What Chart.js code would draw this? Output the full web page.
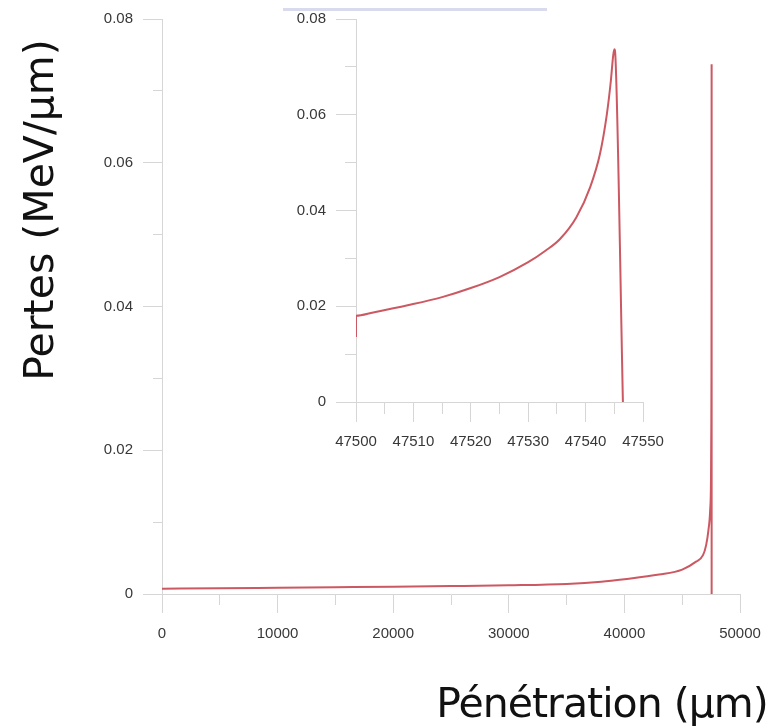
<!DOCTYPE html>
<html>
<head>
<meta charset="utf-8">
<title>Pertes - Pénétration</title>
<script src="https://cdn.jsdelivr.net/npm/chart.js@4"></script>
<style>
  body { margin: 0; background: #fff; }
  #wrap { position: relative; width: 771px; height: 728px; overflow: hidden; }
  canvas { position: absolute; left: 0; top: 0; }
  .axis-title {
    position: absolute;
    font-family: "Comic Sans MS", "DejaVu Sans", sans-serif;
    font-size: 41px;
    color: #111;
    text-align: center;
    white-space: nowrap;
    height: 50px;
    line-height: 50px;
  }
</style>
</head>
<body>
<div id="wrap">
  <canvas id="main" width="771" height="728"></canvas>
  <canvas id="inset" width="771" height="728"></canvas>
  <div class="axis-title" style="left:-161px; top:185px; width:400px; transform: rotate(-90deg);">Pertes (MeV/μm)</div>
  <div class="axis-title" style="left:352px; top:678px; width:500px; letter-spacing:-1px;">Pénétration (μm)</div>
</div>
<script>
// main curve: depth in um, energy loss in MeV/um
var mainDepth = [0, 5000, 10000, 15000, 20000, 25000, 30000, 35000, 38000, 40000, 43000, 45000,
                 46200, 46800, 47070, 47270, 47420, 47490, 47520, 47530, 47540, 47543, 47545, 47546.5];
var mainLoss = [0.00074, 0.00080, 0.00087, 0.00094, 0.00101, 0.00110, 0.00121, 0.00140, 0.00170, 0.00205, 0.0027, 0.0034,
                0.0045, 0.0054, 0.0068, 0.0089, 0.0117, 0.0158, 0.0238, 0.0292, 0.0420, 0.0580, 0.0737, 0];

// zoom on the Bragg peak (inset)
var insetDepth = [47500, 47500, 47503, 47509, 47515, 47520, 47525, 47530, 47533, 47535.5, 47538.4,
                  47540.8, 47542.5, 47543.7, 47544.4, 47544.8, 47545.0, 47545.2, 47546.5];
var insetLoss = [0.0136, 0.0180, 0.0187, 0.0202, 0.0219, 0.0238, 0.0261, 0.0292, 0.0316, 0.0340, 0.0386,
                 0.0449, 0.0518, 0.0601, 0.0671, 0.0723, 0.0737, 0.0720, 0];

// tick labels
var mainXTicks = [0, 10000, 20000, 30000, 40000, 50000];
var mainXLabels = ['0', '10000', '20000', '30000', '40000', '50000'];
var mainYTicks = [0, 0.02, 0.04, 0.06, 0.08];
var mainYLabels = ['0', '0.02', '0.04', '0.06', '0.08'];
var insetXTicks = [47500, 47510, 47520, 47530, 47540, 47550];
var insetXLabels = ['47500', '47510', '47520', '47530', '47540', '47550'];
var insetYTicks = [0, 0.02, 0.04, 0.06, 0.08];
var insetYLabels = ['0', '0.02', '0.04', '0.06', '0.08'];

var lineColor = 'rgb(204, 88, 98)';
var axisColor = '#d6d6d6';
var tickFont = { family: '"Liberation Sans", Arial, sans-serif', size: 15 };

function majorIndex(values, v) {
    for (var i = 0; i < values.length; i++) {
        if (Math.abs(values[i] - v) < 1e-6 * Math.max(1, Math.abs(values[i]))) return i;
    }
    return -1;
}

// one axis with labelled major ticks and shorter unlabelled minor ticks
function makeAxis(o) {
    return {
        type: 'linear',
        position: o.position,
        min: o.min,
        max: o.max,
        afterFit: function(scale) {
            if (o.position === 'left') scale.width = o.size;
            else scale.height = o.size;
            // the layout padding already leaves room for the end labels
            scale.paddingLeft = 0;
            scale.paddingRight = 0;
        },
        border: { display: true, color: axisColor, width: 1 },
        grid: {
            drawOnChartArea: false,
            color: axisColor,
            tickLength: o.major,
            tickBorderDash: function(ctx) {
                if (!ctx.tick || majorIndex(o.values, ctx.tick.value) >= 0) return [];
                // minor tick: only the part next to the axis is drawn
                if (o.position === 'left') return [0, o.major - o.minor, o.minor, 0];
                return [o.minor, 200];
            }
        },
        ticks: {
            stepSize: o.step,
            autoSkip: false,
            maxRotation: 0,
            minRotation: 0,
            padding: o.padding,
            color: '#383838',
            font: tickFont,
            callback: function(value) {
                var i = majorIndex(o.values, value);
                return i >= 0 ? o.labels[i] : '';
            }
        }
    };
}

function points(xs, ys) {
    return xs.map(function(x, i) { return { x: x, y: ys[i] }; });
}

new Chart(document.getElementById('main').getContext('2d'), {
    type: 'line',
    data: {
        datasets: [{
            data: points(mainDepth, mainLoss),
            borderColor: lineColor,
            borderWidth: 2,
            pointRadius: 0,
            fill: false,
            cubicInterpolationMode: 'monotone'
        }]
    },
    options: {
        responsive: false,
        animation: false,
        layout: { padding: { left: 0, top: 19, right: 31, bottom: 0 } },
        plugins: { legend: { display: false }, tooltip: { enabled: false } },
        scales: {
            x: makeAxis({ position: 'bottom', min: 0, max: 50000, step: 5000, size: 134,
                          major: 19, minor: 10, padding: 12, values: mainXTicks, labels: mainXLabels }),
            y: makeAxis({ position: 'left', min: 0, max: 0.08, step: 0.01, size: 162,
                          major: 19, minor: 9, padding: 10, values: mainYTicks, labels: mainYLabels })
        }
    }
});

// thin lavender rule above the inset
var topRule = {
    id: 'topRule',
    afterDraw: function(chart) {
        var c = chart.ctx;
        c.save();
        c.fillStyle = '#dadaee';
        c.fillRect(283, 8, 264, 3);
        c.restore();
    }
};

new Chart(document.getElementById('inset').getContext('2d'), {
    type: 'line',
    data: {
        datasets: [{
            data: points(insetDepth, insetLoss),
            borderColor: lineColor,
            borderWidth: 2,
            pointRadius: 0,
            fill: false,
            cubicInterpolationMode: 'monotone'
        }]
    },
    options: {
        responsive: false,
        animation: false,
        layout: { padding: { left: 270, top: 18, right: 128, bottom: 266 } },
        plugins: { legend: { display: false }, tooltip: { enabled: false } },
        scales: {
            x: makeAxis({ position: 'bottom', min: 47500, max: 47550, step: 5, size: 60,
                          major: 20, minor: 11, padding: 11, values: insetXTicks, labels: insetXLabels }),
            y: makeAxis({ position: 'left', min: 0, max: 0.08, step: 0.01, size: 86,
                          major: 20, minor: 11, padding: 10, values: insetYTicks, labels: insetYLabels })
        }
    },
    plugins: [topRule]
});
</script>
</body>
</html>
